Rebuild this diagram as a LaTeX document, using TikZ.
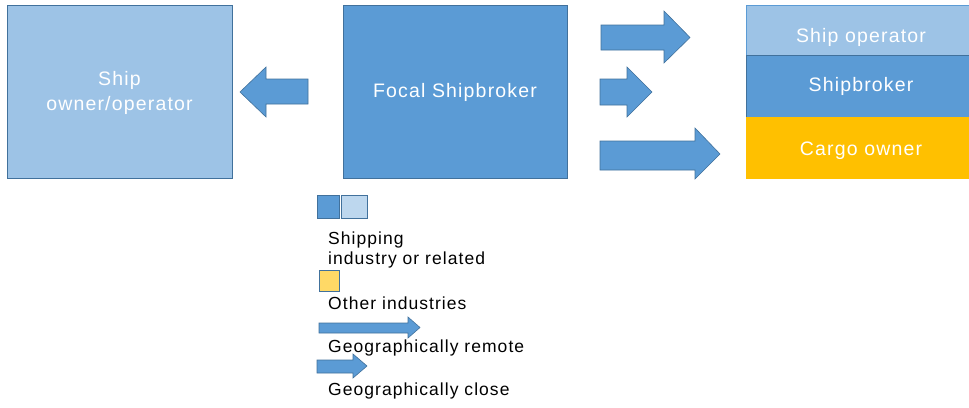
\documentclass[tikz,border=0pt]{standalone}
\usepackage{fontspec}
\setmainfont{Liberation Sans}[LetterSpace=6]
\definecolor{dblue}{HTML}{5B9BD5}
\definecolor{lblue}{HTML}{9DC3E6}
\definecolor{pblue}{HTML}{BDD7EE}
\definecolor{edgeblue}{HTML}{41719C}
\definecolor{gold}{HTML}{FFC000}
\definecolor{lgold}{HTML}{FFD966}
\begin{document}
\begin{tikzpicture}[x=1pt,y=-1pt,
  box/.style={draw=edgeblue,line width=0.8pt,inner sep=0pt},
  btext/.style={text=white,font=\fontsize{19.5}{25}\selectfont,align=center},
  blockarrow/.style={fill=dblue,draw=edgeblue,line width=0.6pt,line join=miter},
  legsq/.style={draw=edgeblue,line width=0.6pt},
  legtext/.style={anchor=west,inner sep=0pt,font=\fontsize{17.5}{20}\selectfont,align=left}]
\useasboundingbox (0,0) rectangle (969,407);
\begin{scope}
\clip (0,0) rectangle (969,407);
% main boxes
\filldraw[box,fill=lblue] (7,5) rectangle (232,178);
\node[btext] (owner) at (119.5,93) {Ship\\owner/operator};
\filldraw[box,fill=dblue] (343,5) rectangle (567,178);
\node[btext] (focal) at (455,92) {Focal Shipbroker};
% right stack
\filldraw[draw=dblue,line width=0.6pt,fill=lblue] (746,5) rectangle (976,55);
\filldraw[draw=edgeblue,line width=0.6pt,fill=dblue] (746,55) rectangle (976,117);
\fill[gold] (746,117) rectangle (976,179);
\node[btext] (shipop) at (861,37) {Ship operator};
\node[btext] (broker) at (861,86) {Shipbroker};
\node[btext] (cargo) at (861,150.5) {Cargo owner};
% block arrows
\draw[blockarrow] (308,79) -- (266,79) -- (266,67) -- (240,92) -- (266,117) -- (266,104) -- (308,104) -- cycle;
\draw[blockarrow] (601,25) -- (664,25) -- (664,11) -- (690,37.5) -- (664,63) -- (664,50) -- (601,50) -- cycle;
\draw[blockarrow] (600,79) -- (627,79) -- (627,67) -- (652,92) -- (627,117) -- (627,105) -- (600,105) -- cycle;
\draw[blockarrow] (600,141) -- (695,141) -- (695,128) -- (720,154) -- (695,179) -- (695,170) -- (600,170) -- cycle;
% legend
\filldraw[legsq,fill=dblue] (317,195) rectangle (339,218);
\filldraw[legsq,fill=pblue] (341,195) rectangle (367,218);
\node[legtext] (leg1) at (328,250) {Shipping\\industry or related};
\filldraw[legsq,fill=lgold] (319,270) rectangle (339,291);
\node[legtext] (leg2) at (328,303) {Other industries};
\draw[blockarrow] (319,323) -- (408,323) -- (408,317) -- (420,327.5) -- (408,338) -- (408,333) -- (319,333) -- cycle;
\node[legtext] (leg3) at (328,347.5) {Geographically remote};
\draw[blockarrow] (317,360) -- (353,360) -- (353,354) -- (367,366) -- (353,378) -- (353,373) -- (317,373) -- cycle;
\node[legtext] (leg4) at (328,390.5) {Geographically close};
\end{scope}
\end{tikzpicture}
\end{document}
